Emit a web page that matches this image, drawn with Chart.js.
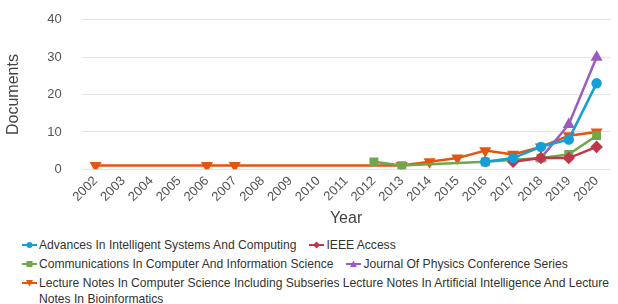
<!DOCTYPE html>
<html>
<head>
<meta charset="utf-8">
<script src="https://cdn.jsdelivr.net/npm/chart.js@4.4.0/dist/chart.umd.min.js"></script>
<style>
  html, body { margin: 0; padding: 0; background: #fff; }
  body { width: 618px; height: 304px; overflow: hidden; font-family: "Liberation Sans", Arial, sans-serif; }
  .chart-box { position: relative; width: 618px; height: 236px; margin-top: -8px; }
  #legend { display: flex; flex-wrap: wrap; column-gap: 13px; padding: 9px 0 0 22px; font-size: 12.1px; color: #333; }
  #legend .item { display: flex; align-items: flex-start; line-height: 16px; margin-bottom: 3px; }
  #legend .item svg { flex: none; margin-right: 2px; margin-top: 2px; }
</style>
</head>
<body>
<div class="chart-box"><canvas id="myChart"></canvas></div>
<div id="legend"></div>
<script>
const years = ["2002", "2003", "2004", "2005", "2006", "2007", "2008", "2009", "2010", "2011",
  "2012", "2013", "2014", "2015", "2016", "2017", "2018", "2019", "2020"];

// null = no documents that year
const advances = [null, null, null, null, null, null, null, null, null, null,
  null, null, null, null, 2, 3, 6, 8, 23];
const ieeeAccess = [null, null, null, null, null, null, null, null, null, null,
  null, null, null, null, null, 2, 3, 3, 6];
const communications = [null, null, null, null, null, null, null, null, null, null,
  2, 1, null, null, 2, null, 3, 4, 9];
const journalPhysics = [null, null, null, null, null, null, null, null, null, null,
  null, null, null, null, null, null, 3, 12, 30];
const lectureNotes = [1, null, null, null, 1, 1, null, null, null, null,
  null, 1, 2, 3, 5, 4, 6, 9, 10];

const yTicks = [0, 10, 20, 30, 40];

const makeSet = (label, data, color, style, rotation) => ({
  label,
  data,
  borderColor: color,
  backgroundColor: color,
  borderWidth: 2.5,
  pointStyle: style,
  pointRotation: rotation || 0,
  pointRadius: style === "circle" ? 4 : 4.5,
  pointHoverRadius: 5,
  spanGaps: true,
  tension: 0,
});

const datasets = [
  makeSet("Advances In Intelligent Systems And Computing", advances, "#169fd6", "circle"),
  makeSet("IEEE Access", ieeeAccess, "#c2354a", "rectRot"),
  makeSet("Communications In Computer And Information Science", communications, "#71a64a", "rect"),
  makeSet("Journal Of Physics Conference Series", journalPhysics, "#9b5cc2", "triangle"),
  makeSet("Lecture Notes In Computer Science Including Subseries Lecture Notes In Artificial Intelligence And Lecture Notes In Bioinformatics",
    lectureNotes, "#e2560f", "triangle", 180),
];

const ctx = document.getElementById("myChart");
new Chart(ctx, {
  type: "line",
  data: { labels: years, datasets },
  options: {
    responsive: true,
    maintainAspectRatio: false,
    animation: false,
    layout: { padding: { top: 0, right: 1, left: 4, bottom: 0 } },
    scales: {
      x: {
        offset: true,
        grid: { display: false, drawTicks: false },
        border: { display: false },
        ticks: {
          color: "#555",
          font: { size: 13, family: "Liberation Sans" },
          minRotation: 45,
          maxRotation: 45,
          padding: 4,
          autoSkip: false,
        },
        title: {
          display: true,
          text: "Year",
          color: "#444",
          font: { size: 16, family: "Liberation Sans" },
          padding: { top: 0, bottom: 0 },
        },
      },
      y: {
        min: 0,
        max: 40,
        afterBuildTicks: (axis) => {
          axis.ticks = yTicks.map((v) => ({ value: v }));
        },
        grid: { color: "#e4e4e4", drawTicks: false },
        border: { display: false },
        ticks: {
          color: "#555",
          font: { size: 13, family: "Liberation Sans" },
          padding: 20,
        },
        title: {
          display: true,
          text: "Documents",
          color: "#444",
          font: { size: 16, family: "Liberation Sans" },
          padding: { top: 0, bottom: 4 },
        },
      },
    },
    plugins: {
      legend: { display: false },
      tooltip: { enabled: true },
    },
  },
});

const markerSvg = (ds) => {
  const c = ds.borderColor;
  let shape = "";
  if (ds.pointStyle === "circle") shape = `<circle cx="7.5" cy="6" r="3" fill="${c}"/>`;
  else if (ds.pointStyle === "rect") shape = `<rect x="4.5" y="3" width="6" height="6" fill="${c}"/>`;
  else if (ds.pointStyle === "rectRot") shape = `<polygon points="7.5,2.5 11,6 7.5,9.5 4,6" fill="${c}"/>`;
  else if (ds.pointRotation === 180) shape = `<polygon points="4,3 11,3 7.5,9.5" fill="${c}"/>`;
  else shape = `<polygon points="7.5,2.5 11,9 4,9" fill="${c}"/>`;
  return `<svg width="15" height="12"><line x1="0" y1="6" x2="15" y2="6" stroke="${c}" stroke-width="2"/>${shape}</svg>`;
};

const legend = document.getElementById("legend");
datasets.forEach((ds) => {
  legend.insertAdjacentHTML(
    "beforeend",
    `<div class="item">${markerSvg(ds)}<span>${ds.label}</span></div>`
  );
});
</script>
</body>
</html>
